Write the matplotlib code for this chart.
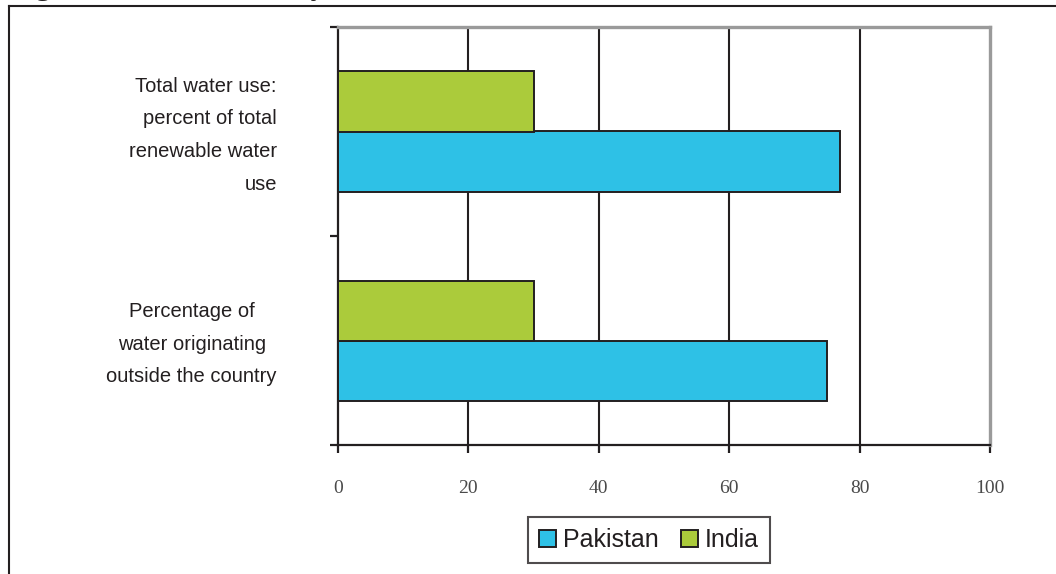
import matplotlib
matplotlib.use("Agg")
import matplotlib.pyplot as plt
import matplotlib.transforms as mtransforms
from matplotlib.lines import Line2D
import numpy as np

# --------------------------------------------------------------------------------------------------
# Data: water indicators, India vs Pakistan (percent)
# --------------------------------------------------------------------------------------------------

categories = ['Percentage of\nwater originating\noutside the country',
              'Total water use:\npercent of total\nrenewable water\nuse']
pakistan = [75, 77]
india = [30, 30]
xticks = [0, 20, 40, 60, 80, 100]

# --------------------------------------------------------------------------------------------------

dark = '#231f20'
cyan = '#2ec1e6'
green = '#abcb3b'

fig = plt.figure(figsize=(10.56, 5.74), dpi=100)
ax = fig.add_axes([338/1056, 1-445/574, 652/1056, 418/574])

# bars, India on top of Pakistan in each category band
ypos = np.arange(len(categories)) + 0.5
h = 60/209
ax.barh(ypos - h/2, pakistan, height=h, color=cyan, edgecolor=dark, linewidth=1.4,
        label='Pakistan', zorder=3)
ax.barh(ypos + h/2, india, height=h, color=green, edgecolor=dark, linewidth=1.4,
        label='India', zorder=3)

ax.set_xlim(0, 100)
ax.set_ylim(0, len(categories))

# vertical grid
for x in xticks[1:-1]:
    ax.axvline(x, color=dark, linewidth=1.5, zorder=1)

# spines
ax.spines['left'].set_color(dark)
ax.spines['bottom'].set_color(dark)
ax.spines['left'].set_linewidth(1.6)
ax.spines['bottom'].set_linewidth(1.6)
ax.spines['top'].set_color('#9a9a9a')
ax.spines['right'].set_color('#9a9a9a')
ax.spines['top'].set_linewidth(2.4)
ax.spines['right'].set_linewidth(2.4)

# x axis
ax.set_xticks(xticks)
ax.set_xticklabels([str(v) for v in xticks], fontfamily='Liberation Serif', fontsize=14,
                   color='#4a4a4a')
ax.tick_params(axis='x', direction='out', length=6, width=1.6, color=dark, pad=19)

# y axis: boundary ticks, labels at band centres
ax.set_yticks(np.arange(len(categories) + 1))
ax.set_yticklabels([])
ax.tick_params(axis='y', which='major', direction='out', length=6, width=1.6, color=dark)
ax.set_yticks(ypos, minor=True)
ax.set_yticklabels(categories, minor=True, fontfamily='Liberation Sans', fontsize=14.5,
                   color=dark, linespacing=1.9)
ax.tick_params(axis='y', which='minor', length=0, pad=44)
lbls = ax.get_yticklabels(minor=True)
lbls[0].set_multialignment('center')
lbls[1].set_multialignment('right')
shift_up = mtransforms.ScaledTranslation(0, 5/100, fig.dpi_scale_trans)
for t in ax.yaxis.get_minor_ticks():
    t.label1.set_transform(t.label1.get_transform() + shift_up)

leg = ax.legend(loc='upper center', bbox_to_anchor=(0.477, -0.172), ncol=2, frameon=True,
                fancybox=False, edgecolor=dark,
                prop={'family': 'Liberation Sans', 'size': 18},
                handlelength=0.68, handleheight=0.68, handletextpad=0.28, columnspacing=0.9,
                borderpad=0.45, borderaxespad=0)
leg.get_frame().set_linewidth(1.5)
for t in leg.get_texts():
    t.set_color(dark)

# page frame and clipped caption
fig.add_artist(Line2D([9/1056, 1], [1-6/574, 1-6/574], color=dark, linewidth=1.5))
fig.add_artist(Line2D([9/1056, 9/1056], [0, 1-6/574], color=dark, linewidth=1.5))
fig.text(9/1056, 1 + 4.5/574, 'Figure 4: Water Security', fontfamily='Liberation Serif',
         fontweight='bold', fontsize=21.5, color=dark, va='baseline', ha='left')

plt.savefig('out.png', dpi=100)
